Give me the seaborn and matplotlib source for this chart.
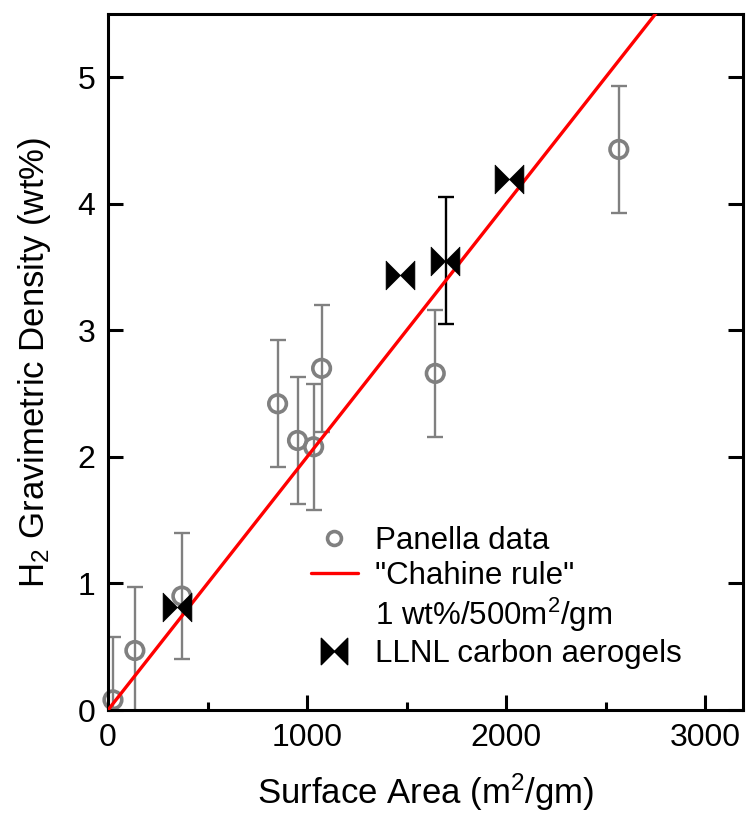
import numpy as np
import pandas as pd
import matplotlib
matplotlib.use("Agg")
import matplotlib.pyplot as plt
from matplotlib.path import Path
from matplotlib.lines import Line2D
from matplotlib.ticker import MultipleLocator
import seaborn as sns

# ---- data ----
panella_x = [25, 135, 371, 852, 952, 1033, 1073, 1644, 2566]
panella_y = [0.08, 0.47, 0.90, 2.42, 2.13, 2.08, 2.70, 2.66, 4.43]
panella_err = [0.5, 0.5, 0.5, 0.5, 0.5, 0.5, 0.5, 0.5, 0.5]

llnl_x = [346, 1469, 1694, 2015]
llnl_y = [0.81, 3.44, 3.55, 4.20]
llnl_err_x = [1700]
llnl_err_y = [3.55]
llnl_err = [0.5]

rule_x = [0, 3200]
rule_y = [0, 6.4]   # 1 wt% per 500 m2/gm

x_ticks = [0, 1000, 2000, 3000]
y_ticks = [0, 1, 2, 3, 4, 5]

sns.set_style("ticks")
plt.rcParams['font.family'] = ['Liberation Sans', 'DejaVu Sans']
plt.rcParams['mathtext.fontset'] = 'custom'
plt.rcParams['mathtext.rm'] = 'Liberation Sans'
plt.rcParams['mathtext.it'] = 'Liberation Sans'
for k in ['text.color', 'axes.labelcolor', 'xtick.color', 'ytick.color', 'axes.edgecolor']:
    plt.rcParams[k] = 'black'

fig = plt.figure(figsize=(7.48, 8.17), dpi=100)
ax = fig.add_axes([108/748, 1-710/817, (743-108)/748, (710-14)/817])

gray = '#808080'
bowtie = Path([(-1, -1), (-1, 1), (0, 0), (1, 1), (1, -1), (0, 0), (-1, -1)],
              [Path.MOVETO, Path.LINETO, Path.LINETO, Path.LINETO, Path.LINETO, Path.LINETO, Path.CLOSEPOLY])

# error bars
ax.errorbar(panella_x, panella_y, yerr=panella_err, fmt='none', ecolor=gray,
            elinewidth=1.7, capsize=6, capthick=1.7, zorder=1)
ax.errorbar(llnl_err_x, llnl_err_y, yerr=llnl_err, fmt='none', ecolor='black',
            elinewidth=1.7, capsize=6, capthick=1.7, zorder=1)

df_p = pd.DataFrame({'x': panella_x, 'y': panella_y})
sns.scatterplot(data=df_p, x='x', y='y', ax=ax, marker='o', s=160,
                facecolors='none', edgecolor=gray, linewidth=2.6, zorder=2, clip_on=False)

df_r = pd.DataFrame({'x': rule_x, 'y': rule_y})
sns.lineplot(data=df_r, x='x', y='y', ax=ax, color='#ff0000', linewidth=2.4, zorder=3)

df_l = pd.DataFrame({'x': llnl_x, 'y': llnl_y})
sns.scatterplot(data=df_l, x='x', y='y', ax=ax, marker=bowtie, s=430,
                color='black', edgecolor='black', linewidth=0.5, zorder=4)

ax.set_xlim(0, 3190)
ax.set_ylim(0, 5.5)
ax.set_xticks(x_ticks)
ax.set_yticks(y_ticks)
ax.xaxis.set_minor_locator(MultipleLocator(500))
ax.tick_params(axis='both', which='major', direction='in', length=11, width=2.2,
               labelsize=23, pad=9)
ax.tick_params(axis='x', which='minor', direction='in', length=6, width=2.2)
ax.tick_params(axis='y', which='major', right=True)
for sp in ax.spines.values():
    sp.set_linewidth(2.2)
    sp.set_visible(True)

ax.set_xlabel('Surface Area (m$^2$/gm)', fontsize=25, labelpad=14)
ax.set_ylabel('H$_2$ Gravimetric Density (wt%)', fontsize=25, labelpad=18)

handles = [
    Line2D([], [], marker='o', linestyle='none', markerfacecolor='none',
           markeredgecolor=gray, markeredgewidth=2.6, markersize=10),
    Line2D([], [], color='#ff0000', linewidth=2.4),
    Line2D([], [], linestyle='none', marker=None),
    Line2D([], [], marker=bowtie, linestyle='none', color='black', markersize=19),
]
labels = ['Panella data', '"Chahine rule"', '1 wt%/500m$^2$/gm', 'LLNL carbon aerogels']
ax.legend(handles, labels, loc='upper left', bbox_to_anchor=(0.3, 0.282),
          frameon=False, fontsize=22.5, handlelength=1.5, handletextpad=0.55,
          labelspacing=0.15, borderaxespad=0)

fig.savefig('out.png', dpi=100)
